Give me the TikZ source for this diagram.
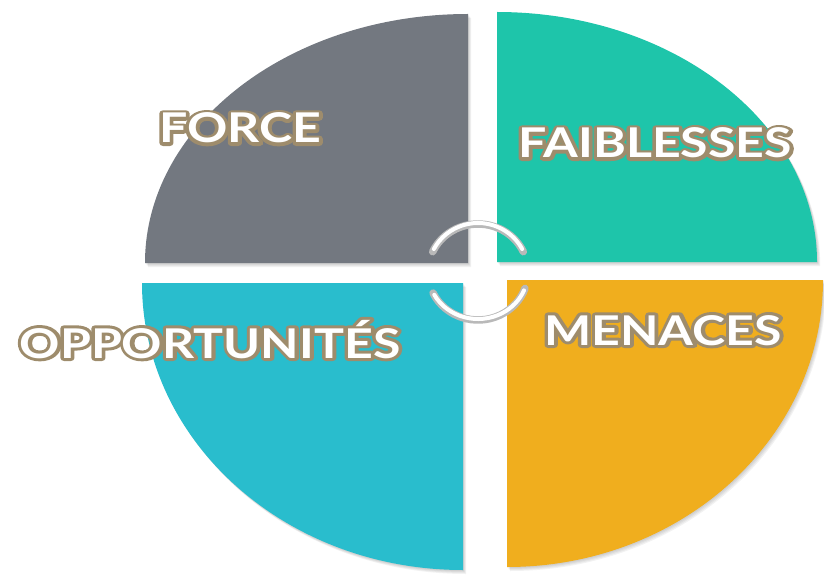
\documentclass[tikz,border=0pt]{standalone}
\usepackage{fontspec}
\setmainfont{Lato}
\usepackage{tikz}
\definecolor{forcegray}{HTML}{737880}
\definecolor{faibteal}{HTML}{1EC5AA}
\definecolor{opportcyan}{HTML}{29BDCD}
\definecolor{menorange}{HTML}{F0AE1E}
\definecolor{labeltan}{HTML}{9E8C6C}
% stroked copy for the tan outline
\newcommand{\outlined}[1]{\special{pdf:literal direct 6 w 1 j 2 Tr}#1\special{pdf:literal direct 0 Tr}}
\tikzset{
    swottext/.style={text=white,font=\bfseries\fontsize{41}{41}\selectfont,anchor=base,inner sep=0pt,xscale=1.22},
    swotback/.style={swottext,text=labeltan},
    ringarc/.style={line width=7.5pt,line cap=round,draw=gray!55},
    ringlight/.style={line width=4pt,line cap=round,draw=white},
}

\begin{document}
\begin{tikzpicture}[x=1pt,y=1pt]
		\useasboundingbox (0,0) rectangle (824,574);
		% soft shadows
		\foreach \s in {1,...,4} {
				\fill[black,opacity=0.05,shift={(0.8*\s,-1*\s)}] (145,311) arc[start angle=180,end angle=90,x radius=323,y radius=249] -- (468,311) -- cycle;
				\fill[black,opacity=0.05,shift={(0.8*\s,-1*\s)}] (817,312) arc[start angle=0,end angle=90,x radius=320,y radius=250] -- (497,312) -- cycle;
				\fill[black,opacity=0.05,shift={(0.8*\s,-1*\s)}] (142,291) arc[start angle=180,end angle=270,x radius=321,y radius=287] -- (463,291) -- cycle;
				\fill[black,opacity=0.05,shift={(0.8*\s,-1*\s)}] (823,294) arc[start angle=0,end angle=-90,x radius=316,y radius=287] -- (507,294) -- cycle;
			}
		% quadrants
		\fill[forcegray] (145,311) arc[start angle=180,end angle=90,x radius=323,y radius=249] -- (468,311) -- cycle;
		\fill[faibteal] (817,312) arc[start angle=0,end angle=90,x radius=320,y radius=250] -- (497,312) -- cycle;
		\fill[opportcyan] (142,291) arc[start angle=180,end angle=270,x radius=321,y radius=287] -- (463,291) -- cycle;
		\fill[menorange] (823,294) arc[start angle=0,end angle=-90,x radius=316,y radius=287] -- (507,294) -- cycle;
		% circular arrows
		\coordinate (ring) at (478,302);
		\draw[ringarc] ([shift={(155:50 and 48)}]ring) arc[start angle=155,end angle=25,x radius=50,y radius=48];
		\draw[ringarc] ([shift={(206:50 and 48)}]ring) arc[start angle=206,end angle=340,x radius=50,y radius=48];
		\draw[ringlight] ([shift={(152:50 and 49)}]ring) arc[start angle=152,end angle=28,x radius=50,y radius=49];
		\draw[ringlight] ([shift={(209:50 and 47)}]ring) arc[start angle=209,end angle=337,x radius=50,y radius=47];
		% labels
		\foreach \pos/\name/\txt in {(240,431)/force/FORCE,(655,416)/faib/FAIBLESSES,(210,216)/opport/OPPORTUNITÉS,(663,229)/menaces/MENACES} {
				\node[swotback] at \pos {\outlined{\txt}};
				\node[swottext] (\name) at \pos {\txt};
			}
	\end{tikzpicture}
\end{document}
